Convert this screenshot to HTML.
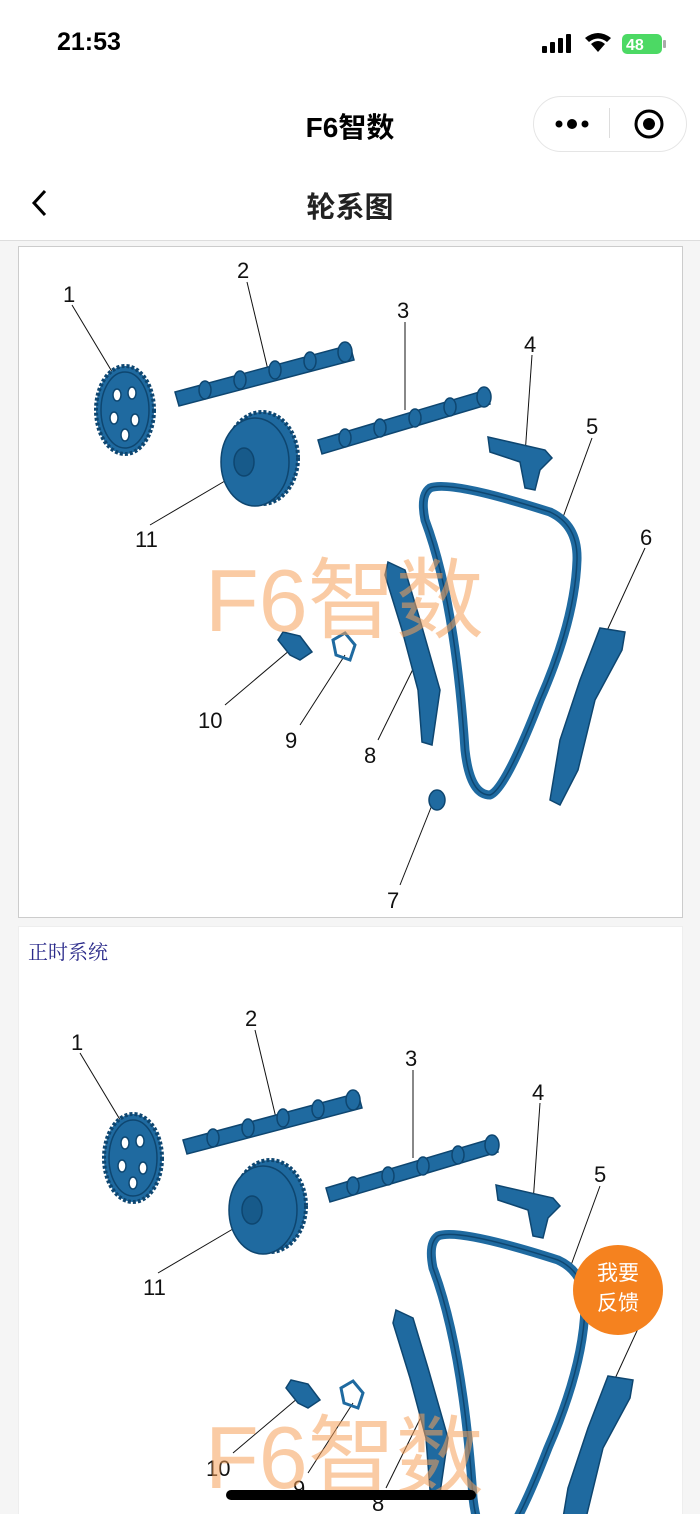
<!DOCTYPE html>
<html><head><meta charset="utf-8"><style>
html,body{margin:0;width:700px;height:1514px;overflow:hidden}
body{background:#f5f5f5;font-family:"Liberation Sans","Noto Sans CJK SC",sans-serif;position:relative}
.hdr{position:absolute;left:0;top:0;width:700px;height:240px;background:#fff;border-bottom:1px solid #ddd}
.abs{position:absolute}
.panel{position:absolute;background:#fff;border:1px solid #ccc;box-sizing:border-box}
</style></head><body>
<div class="hdr"></div>
<div class="abs" style="left:57px;top:28px;font-size:25px;font-weight:bold">21:53</div>
<svg class="abs" style="left:540px;top:30px" width="130" height="30">
<rect x="2" y="16" width="5" height="7" rx="1"/><rect x="10" y="12" width="5" height="11" rx="1"/><rect x="18" y="8" width="5" height="15" rx="1"/><rect x="26" y="4" width="5" height="19" rx="1"/>
<path d="M45 8 Q58 -2 71 8 L67 12 Q58 5 49 12Z M51 14 Q58 8 65 14 L58 22Z" fill="#000"/>
<rect x="82" y="4" width="40" height="20" rx="5" fill="#4cd964"/><text x="86" y="20" font-size="16" font-weight="bold" fill="#fff">48</text><rect x="123" y="10" width="3" height="8" rx="1" fill="#aaa"/>
</svg>
<div class="abs" style="left:0;width:700px;top:106px;text-align:center;font-size:28px;font-weight:bold">F6智数</div>
<div class="abs" style="left:533px;top:96px;width:152px;height:54px;border:1px solid #e5e5e5;border-radius:28px;background:#fff"></div>
<div class="abs" style="left:609px;top:108px;width:1px;height:30px;background:#ddd"></div>
<svg class="abs" style="left:550px;top:108px" width="130" height="32"><circle cx="9" cy="16" r="3.5"/><circle cx="22" cy="16" r="5"/><circle cx="35" cy="16" r="3.5"/><circle cx="99" cy="16" r="13" fill="none" stroke="#000" stroke-width="3"/><circle cx="99" cy="16" r="6"/></svg>
<svg class="abs" style="left:28px;top:188px" width="24" height="30"><path d="M17 3 L6 15 L17 27" fill="none" stroke="#000" stroke-width="3"/></svg>
<div class="abs" style="left:0;width:700px;top:184px;text-align:center;font-size:29px;font-weight:bold;color:#222">轮系图</div>

<svg width="0" height="0" style="position:absolute"><defs>
<g id="d" font-family="Liberation Sans" font-size="22" fill="#111">
<g stroke="#111" stroke-width="1" fill="none">
<path d="M72 305 L120 385"/><path d="M247 282 L268 370"/><path d="M405 322 L405 410"/><path d="M532 355 L525 455"/><path d="M592 438 L562 520"/><path d="M645 548 L605 635"/><path d="M150 525 L230 478"/><path d="M225 705 L290 650"/><path d="M300 725 L345 655"/><path d="M378 740 L415 665"/><path d="M400 885 L432 805"/>
</g>
<text x="63" y="302">1</text><text x="237" y="278">2</text><text x="397" y="318">3</text><text x="524" y="352">4</text><text x="586" y="434">5</text><text x="640" y="545">6</text><text x="387" y="908">7</text><text x="364" y="763">8</text><text x="285" y="748">9</text><text x="198" y="728">10</text><text x="135" y="547">11</text>
<g fill="#1f6aa0" stroke="#0e4670" stroke-width="1.5">
<ellipse cx="125" cy="410" rx="29" ry="44" stroke-dasharray="3 2" stroke-width="4"/>
<ellipse cx="125" cy="410" rx="24" ry="38"/>
<g fill="#fff"><ellipse cx="117" cy="395" rx="4" ry="6"/><ellipse cx="132" cy="393" rx="4" ry="6"/><ellipse cx="114" cy="418" rx="4" ry="6"/><ellipse cx="135" cy="420" rx="4" ry="6"/><ellipse cx="125" cy="435" rx="4" ry="6"/></g>
<path d="M175 392 L350 345 L354 360 L179 406Z"/>
<g><ellipse cx="205" cy="390" rx="6" ry="9"/><ellipse cx="240" cy="380" rx="6" ry="9"/><ellipse cx="275" cy="370" rx="6" ry="9"/><ellipse cx="310" cy="361" rx="6" ry="9"/><ellipse cx="345" cy="352" rx="7" ry="10"/></g>
<path d="M318 440 L486 390 L490 404 L322 454Z"/>
<g><ellipse cx="345" cy="438" rx="6" ry="9"/><ellipse cx="380" cy="428" rx="6" ry="9"/><ellipse cx="415" cy="418" rx="6" ry="9"/><ellipse cx="450" cy="407" rx="6" ry="9"/><ellipse cx="484" cy="397" rx="7" ry="10"/></g>
<ellipse cx="262" cy="458" rx="36" ry="46" stroke-dasharray="3 2" stroke-width="4"/>
<ellipse cx="255" cy="462" rx="34" ry="44"/>
<ellipse cx="244" cy="462" rx="10" ry="14" fill="#175a8a"/>
<path d="M488 437 L545 450 L552 458 L540 470 L535 490 L525 488 L520 462 L490 452Z"/>
<path d="M600 628 L625 632 L622 650 L595 700 L578 770 L560 805 L550 800 L560 740 L580 680Z"/>
<path d="M388 562 L405 570 L420 620 L440 690 L432 745 L422 742 L418 690 L402 630 L385 575Z"/>
<path d="M283 632 L300 636 L312 652 L300 660 L290 655 L278 640Z"/>
<ellipse cx="437" cy="800" rx="8" ry="10"/>
</g>
<path d="M345 633 L355 645 L350 660 L336 655 L333 640Z" fill="none" stroke="#1f6aa0" stroke-width="3"/>
<path d="M430 488 Q450 480 550 512 Q578 525 577 560 Q575 620 540 700 Q505 790 490 795 Q470 795 465 750 Q455 600 425 520 Q420 495 430 488Z" fill="none" stroke="#1f6aa0" stroke-width="9"/>
<path d="M430 488 Q450 480 550 512 Q578 525 577 560 Q575 620 540 700 Q505 790 490 795 Q470 795 465 750 Q455 600 425 520 Q420 495 430 488Z" fill="none" stroke="#0e4670" stroke-width="1.5"/>
</g></defs></svg>

<div class="panel" style="left:18px;top:246px;width:665px;height:672px"></div>
<svg class="abs" style="left:0;top:0" width="700" height="920"><use href="#d"/></svg>
<div class="abs" style="left:205px;top:530px;font-size:88px;color:rgba(245,160,90,0.55)">F6智数</div>

<div class="panel" style="left:18px;top:926px;width:665px;height:588px;border-color:#eee;border-bottom:none"></div>
<div class="abs" style="left:28px;top:936px;font-size:20px;color:#2a2a8a;font-family:'Liberation Serif','Noto Serif CJK SC',serif">正时系统</div>
<svg class="abs" style="left:0;top:926px" width="700" height="588"><g transform="translate(8,-178)"><use href="#d"/></g></svg>
<div class="abs" style="left:205px;top:1402px;font-size:88px;line-height:112px;height:112px;overflow:hidden;color:rgba(245,160,90,0.55)">F6智数</div>
<div class="abs" style="left:573px;top:1245px;width:90px;height:90px;border-radius:50%;background:#f5821f;color:#fff;font-size:21px;text-align:center;line-height:30px;padding-top:14px;box-sizing:border-box">我要<br>反馈</div>
<div class="abs" style="left:226px;top:1490px;width:250px;height:10px;border-radius:5px;background:#000"></div>
</body></html>
